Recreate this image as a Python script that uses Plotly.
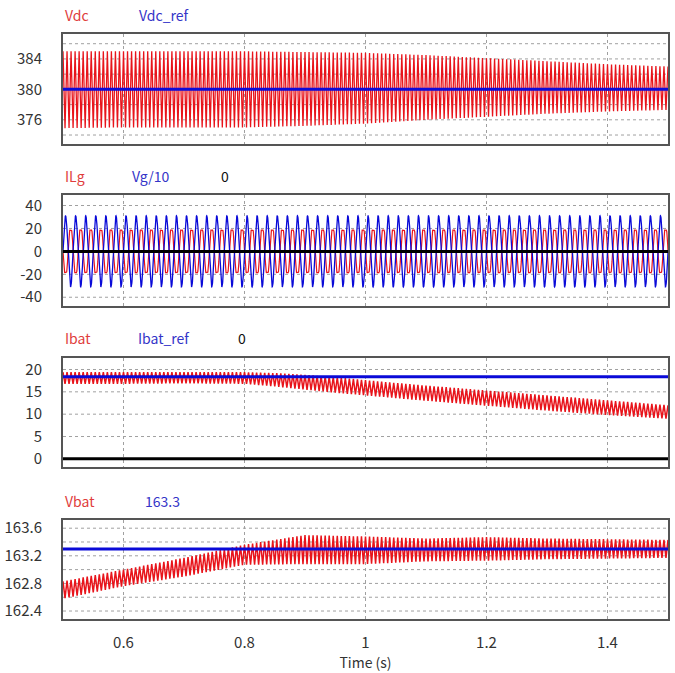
import numpy as np
import plotly.graph_objects as go

# ---------------- data ----------------
# Vdc panel: ripple envelope
vdc_t = [0.5, 0.6, 0.7, 0.8, 0.9, 1.0, 1.1, 1.2, 1.3, 1.4, 1.5]
vdc_upper = [385.0, 385.0, 385.0, 385.0, 384.9, 384.8, 384.5, 384.1, 383.7, 383.3, 383.0]
vdc_lower = [374.9, 375.0, 375.0, 375.0, 375.2, 375.5, 376.0, 376.4, 376.8, 377.1, 377.3]
vdc_ref = 380.0

# ILg / Vg/10 panel: 60 Hz amplitudes
grid_freq = 60.0
ilg_t = [0.5, 1.0, 1.5]
ilg_amp = [19.5, 19.5, 19.5]
vg10_amp = [31.0, 31.0, 31.0]
ilg_third_harm = 0.15

# Ibat panel: ripple envelope
ibat_t = [0.5, 0.6, 0.7, 0.8, 0.85, 0.9, 0.95, 1.0, 1.1, 1.2, 1.3, 1.4, 1.5]
ibat_upper = [19.4, 19.4, 19.4, 19.4, 19.2, 18.8, 18.3, 17.6, 16.4, 15.3, 14.2, 13.1, 12.0]
ibat_lower = [16.8, 16.8, 16.9, 16.8, 16.2, 15.5, 14.8, 14.2, 13.0, 11.9, 10.8, 9.8, 9.0]
ibat_ref = 18.4

# Vbat panel: ripple envelope
vbat_t = [0.5, 0.6, 0.7, 0.8, 0.9, 1.0, 1.1, 1.2, 1.3, 1.4, 1.5]
vbat_upper = [162.83, 163.00, 163.17, 163.36, 163.50, 163.48, 163.45, 163.47, 163.45, 163.44, 163.43]
vbat_lower = [162.58, 162.76, 162.90, 163.07, 163.08, 163.08, 163.12, 163.13, 163.15, 163.16, 163.17]
vbat_ref = 163.3

ripple_cycles_per_s = 150  # visible ripple density in the plot
t_start, t_end = 0.5, 1.5

panel_labels = [
    [("Vdc", "red"), ("Vdc_ref", "blue")],
    [("ILg", "red"), ("Vg/10", "blue"), ("0", "black")],
    [("Ibat", "red"), ("Ibat_ref", "blue"), ("0", "black")],
    [("Vbat", "red"), ("163.3", "blue")],
]
x_ticks = [0.6, 0.8, 1.0, 1.2, 1.4]
x_tick_text = ["0.6", "0.8", "1", "1.2", "1.4"]

# ---------------- build series ----------------
def zigzag(t_env, up, lo):
    n = int(round((t_end - t_start) * ripple_cycles_per_s * 2))
    t = np.linspace(t_start, t_end, n + 1)
    u = np.interp(t, t_env, up)
    l = np.interp(t, t_env, lo)
    y = np.where(np.arange(n + 1) % 2 == 0, u, l)
    return t, y

t_g = np.linspace(t_start, t_end, 4001)
ph = 2 * np.pi * grid_freq * t_g
vg10 = np.interp(t_g, ilg_t, vg10_amp) * np.sin(ph)
ilg = -np.interp(t_g, ilg_t, ilg_amp) * (np.sin(ph) + ilg_third_harm * np.sin(3 * ph)) / (1 - ilg_third_harm) * 0.93

RED = "#e8141b"
BLUE = "#0a0ad8"
TXT_RED = "#e03c3c"
TXT_BLUE = "#3434c8"
FRAME = "#555555"
GRID = "#a0a0a0"
DASH = "3px,3px"
FONT = "Noto Sans CJK KR, Noto Sans, sans-serif"

fig = go.Figure()

tv, yv = zigzag(vdc_t, vdc_upper, vdc_lower)
fig.add_trace(go.Scatter(x=tv, y=yv, mode="lines", line=dict(color=RED, width=1.3), xaxis="x", yaxis="y"))
fig.add_trace(go.Scatter(x=[t_start, t_end], y=[vdc_ref, vdc_ref], mode="lines", line=dict(color=BLUE, width=3), xaxis="x", yaxis="y"))

fig.add_trace(go.Scatter(x=t_g, y=ilg, mode="lines", line=dict(color=RED, width=1.2), xaxis="x2", yaxis="y2"))
fig.add_trace(go.Scatter(x=t_g, y=vg10, mode="lines", line=dict(color=BLUE, width=1.3), xaxis="x2", yaxis="y2"))
fig.add_trace(go.Scatter(x=[t_start, t_end], y=[0, 0], mode="lines", line=dict(color="black", width=3), xaxis="x2", yaxis="y2"))

ti, yi = zigzag(ibat_t, ibat_upper, ibat_lower)
fig.add_trace(go.Scatter(x=ti, y=yi, mode="lines", line=dict(color=RED, width=1.5), xaxis="x3", yaxis="y3"))
fig.add_trace(go.Scatter(x=[t_start, t_end], y=[ibat_ref, ibat_ref], mode="lines", line=dict(color=BLUE, width=3), xaxis="x3", yaxis="y3"))
fig.add_trace(go.Scatter(x=[t_start, t_end], y=[0, 0], mode="lines", line=dict(color="black", width=3), xaxis="x3", yaxis="y3"))

tb, yb = zigzag(vbat_t, vbat_upper, vbat_lower)
fig.add_trace(go.Scatter(x=tb, y=yb, mode="lines", line=dict(color=RED, width=1.5), xaxis="x4", yaxis="y4"))
fig.add_trace(go.Scatter(x=[t_start, t_end], y=[vbat_ref, vbat_ref], mode="lines", line=dict(color=BLUE, width=3), xaxis="x4", yaxis="y4"))

W, H = 675, 673
px_left, px_right = 63, 668
panels_px = [(31, 142), (193, 305), (357, 467), (520, 620)]
y_ranges = [[372.8, 387.3], [-47.8, 49.3], [-1.87, 22.6], [162.28, 163.72]]
y_tick_spec = [
    dict(tickvals=[376, 380, 384], grid=[374, 376, 378, 380, 382, 384, 386]),
    dict(tickvals=[-40, -20, 0, 20, 40], grid=[-40, -20, 0, 20, 40]),
    dict(tickvals=[0, 5, 10, 15, 20], grid=[5, 10, 15, 20]),
    dict(tickvals=[162.4, 162.8, 163.2, 163.6], grid=[162.4, 162.6, 162.8, 163.0, 163.2, 163.4, 163.6]),
]
y_tick_text = [
    ["376", "380", "384"],
    ["-40", "-20", "0", "20", "40"],
    ["0", "5", "10", "15", "20"],
    ["162.4", "162.8", "163.2", "163.6"],
]
label_x = [[63, 137], [63, 130, 219], [63, 136, 236], [63, 143]]
label_y = [12, 174, 337, 501]

layout = dict(
    width=W, height=H, margin=dict(l=0, r=0, t=0, b=0),
    paper_bgcolor="white", plot_bgcolor="white", showlegend=False,
    font=dict(family=FONT, size=14, color="#333333"),
)
shapes = []
annotations = []
for i, (top, bot) in enumerate(panels_px):
    k = "" if i == 0 else str(i + 1)
    dom_y = [1 - bot / H, 1 - top / H]
    last = i == 3
    layout["xaxis" + k] = dict(
        domain=[px_left / W, px_right / W], range=[t_start, t_end], anchor="y" + k,
        tickvals=x_ticks, ticktext=x_tick_text, showticklabels=last,
        ticks="outside" if last else "", ticklen=9, tickcolor="rgba(0,0,0,0)",
        showgrid=True, gridcolor=GRID, griddash=DASH, gridwidth=1,
        showline=True, mirror=True, linecolor=FRAME, linewidth=2, zeroline=False,
        tickfont=dict(size=15, color="#333333"),
        title=dict(text="Time (s)", font=dict(size=14, color="#333333"), standoff=3) if last else None,
    )
    layout["yaxis" + k] = dict(
        domain=dom_y, range=y_ranges[i], anchor="x" + k,
        tickvals=y_tick_spec[i]["tickvals"], ticktext=y_tick_text[i],
        ticks="outside", ticklen=16, tickcolor="rgba(0,0,0,0)",
        showgrid=False, showline=True, mirror=True, linecolor=FRAME, linewidth=2, zeroline=False,
        tickfont=dict(size=15, color="#333333"),
    )
    for g in y_tick_spec[i]["grid"]:
        shapes.append(dict(type="line", xref="paper", yref="y" + k,
                           x0=px_left / W, x1=px_right / W, y0=g, y1=g,
                           line=dict(color=GRID, width=1, dash=DASH), layer="below"))
    for (txt, col), lx in zip(panel_labels[i], label_x[i]):
        color = {"red": TXT_RED, "blue": TXT_BLUE, "black": "#111111"}[col]
        annotations.append(dict(text=txt, x=lx / W, y=1 - label_y[i] / H, xref="paper", yref="paper",
                                xanchor="left", yanchor="middle", showarrow=False,
                                font=dict(size=14, color=color)))

layout["shapes"] = shapes
layout["annotations"] = annotations
fig.update_layout(**layout)
fig.write_html(
    "out.html",
    config={"displayModeBar": False},
    post_script="document.body.style.margin='0px';document.body.style.overflow='hidden';",
)
